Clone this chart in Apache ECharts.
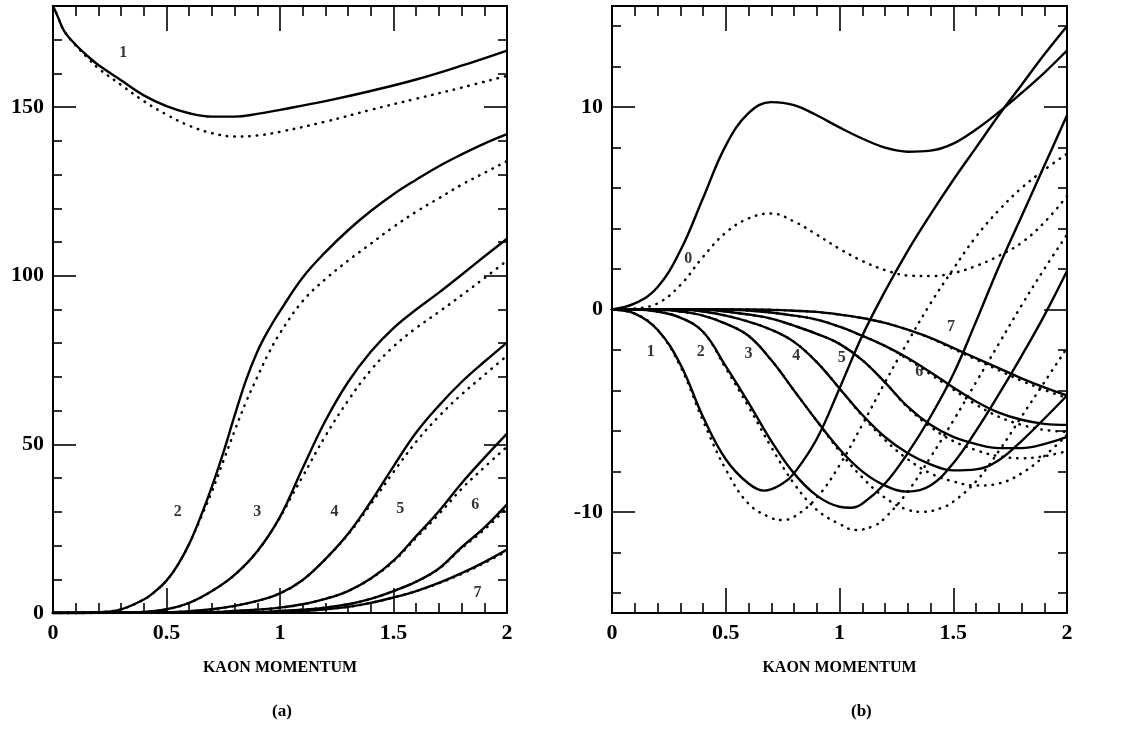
<!DOCTYPE html>
<html lang="en">
<head>
<meta charset="UTF-8">
<title>Kaon momentum</title>
<style>
  body{ margin:0; background:#fff; }
  .chart{ width:1141px; height:745px; }
</style>
</head>
<body>
<div class="chart"></div>
<script src="https://cdn.jsdelivr.net/npm/echarts@6/dist/echarts.min.js"></script>
<script>
  // tick values
  const xMajor = [0, 0.5, 1, 1.5, 2];
  const aMajor = [0, 50, 100, 150];
  const aMinor = [10, 20, 30, 40, 60, 70, 80, 90, 110, 120, 130, 140, 160, 170];
  const bMajor = [-10, 0, 10];
  const bMinor = [-14, -12, -8, -6, -4, -2, 2, 4, 6, 8, 12, 14];

  // panel (a): solid = full calc, dotted = approx
  const a1s = [[0,180],[0.02,177],[0.05,172.5],[0.1,168.5],[0.15,165.3],[0.2,162.5],[0.3,158],[0.4,153.5],[0.5,150.3],[0.6,148.2],[0.7,147.2],[0.8,147.2],[0.9,148],[1.0,149.2],[1.2,151.8],[1.4,154.8],[1.6,158.2],[1.8,162.3],[2.0,166.8]];
  const a1d = [[0,180],[0.02,177],[0.05,172.5],[0.1,168.3],[0.15,164.8],[0.2,161.5],[0.3,156.6],[0.4,151.8],[0.5,147.8],[0.6,144.5],[0.7,142.3],[0.8,141.3],[0.9,141.6],[1.0,142.7],[1.2,145.7],[1.4,149.2],[1.6,152.5],[1.8,155.8],[2.0,159.3]];
  const a2s = [[0,0],[0.1,0],[0.2,0.2],[0.3,1.1],[0.4,4],[0.45,6.4],[0.5,9.6],[0.55,14.3],[0.6,20.5],[0.65,28.5],[0.7,37.5],[0.75,47.5],[0.8,58.5],[0.85,69],[0.9,77.5],[0.95,84],[1.0,89.5],[1.1,99.5],[1.2,107],[1.3,113.5],[1.4,119.2],[1.5,124.2],[1.6,128.5],[1.7,132.5],[1.8,136],[1.9,139.2],[2.0,142]];
  const a2d = [[0,0],[0.1,0],[0.2,0.2],[0.3,1.1],[0.4,4],[0.45,6.4],[0.5,9.6],[0.55,14.3],[0.6,20.5],[0.65,28],[0.7,36],[0.75,45],[0.8,54],[0.85,62.5],[0.9,70],[0.95,77],[1.0,83],[1.1,92.5],[1.2,99],[1.3,104.5],[1.4,109.5],[1.5,114.5],[1.6,119],[1.7,123],[1.8,127],[1.9,130.5],[2.0,134]];
  const a3s = [[0,0],[0.3,0.1],[0.4,0.3],[0.5,1.1],[0.6,3],[0.7,6.5],[0.8,11.3],[0.9,18.3],[1.0,28.5],[1.1,43],[1.2,57],[1.3,68.5],[1.4,77.5],[1.5,84.5],[1.6,90],[1.7,95],[1.8,100.3],[1.9,105.7],[2.0,111]];
  const a3d = [[0,0],[0.3,0.1],[0.4,0.3],[0.5,1.1],[0.6,3],[0.7,6.5],[0.8,11.3],[0.9,18.3],[1.0,28.3],[1.05,34.5],[1.1,40.5],[1.2,52.5],[1.3,63],[1.4,72],[1.5,79],[1.6,84.5],[1.7,89.3],[1.8,94.2],[1.9,99.3],[2.0,104.5]];
  const a4s = [[0,0],[0.5,0.2],[0.6,0.5],[0.7,1.1],[0.8,2.1],[0.9,3.6],[1.0,5.8],[1.1,9.8],[1.2,16],[1.3,23.5],[1.4,33],[1.5,43.5],[1.6,53.5],[1.7,61.5],[1.8,68.5],[1.9,74.5],[2.0,80.2]];
  const a4d = [[0,0],[0.5,0.2],[0.6,0.5],[0.7,1.1],[0.8,2.1],[0.9,3.6],[1.0,5.8],[1.1,9.8],[1.2,16],[1.3,23.3],[1.4,32.3],[1.5,41.8],[1.6,50.8],[1.7,58.3],[1.8,64.8],[1.9,70.6],[2.0,76.3]];
  const a5s = [[0,0],[0.7,0.3],[0.8,0.6],[0.9,1],[1.0,1.6],[1.1,2.6],[1.2,4.2],[1.3,6.5],[1.4,10.2],[1.5,15.5],[1.6,22.8],[1.7,30.2],[1.8,38.5],[1.9,46],[2.0,53.2]];
  const a5d = [[0,0],[0.7,0.3],[0.8,0.6],[0.9,1],[1.0,1.6],[1.1,2.6],[1.2,4.2],[1.3,6.5],[1.4,10.2],[1.5,15.3],[1.6,22.3],[1.7,29.3],[1.8,36.8],[1.9,43.2],[2.0,49.3]];
  const a6s = [[0,0],[0.9,0.3],[1.0,0.6],[1.1,1],[1.2,1.6],[1.3,2.6],[1.4,4.2],[1.5,6.5],[1.6,9.3],[1.7,13.2],[1.8,19.5],[1.9,25.3],[2.0,32.2]];
  const a6d = [[0,0],[0.9,0.3],[1.0,0.6],[1.1,1],[1.2,1.6],[1.3,2.6],[1.4,4.2],[1.5,6.5],[1.6,9.3],[1.7,13.1],[1.8,19.2],[1.9,24.7],[2.0,31.2]];
  const a7s = [[0,0],[1.0,0.3],[1.1,0.6],[1.2,1.1],[1.3,1.8],[1.4,3],[1.5,4.6],[1.6,6.5],[1.7,8.9],[1.8,11.8],[1.9,15.1],[2.0,18.8]];
  const a7d = [[0,0],[1.0,0.3],[1.1,0.6],[1.2,1.1],[1.3,1.8],[1.4,3],[1.5,4.6],[1.6,6.5],[1.7,8.8],[1.8,11.6],[1.9,14.8],[2.0,18.4]];
  const aLabels = [[0.31,166,'1'],[0.55,30,'2'],[0.9,30,'3'],[1.24,30,'4'],[1.53,31,'5'],[1.86,32,'6'],[1.87,6,'7']];

  // panel (b)
  const b0s = [[0,0],[0.1,0.3],[0.2,1.1],[0.3,2.9],[0.4,5.5],[0.5,8.1],[0.6,9.7],[0.7,10.25],[0.8,10.1],[0.9,9.6],[1.0,9.0],[1.1,8.45],[1.2,8.0],[1.3,7.8],[1.4,7.85],[1.5,8.2],[1.6,8.9],[1.7,9.75],[1.8,10.7],[1.9,11.7],[2.0,12.8]];
  const b0d = [[0,0],[0.1,0.05],[0.2,0.3],[0.3,1.2],[0.4,2.6],[0.5,3.8],[0.6,4.5],[0.7,4.75],[0.8,4.35],[0.9,3.7],[1.0,3.0],[1.1,2.4],[1.2,1.95],[1.3,1.68],[1.4,1.65],[1.5,1.8],[1.6,2.15],[1.7,2.65],[1.8,3.3],[1.9,4.3],[2.0,5.6]];
  const b1s = [[0,0],[0.1,-0.2],[0.2,-1.0],[0.3,-2.7],[0.4,-5.3],[0.5,-7.4],[0.6,-8.6],[0.67,-8.95],[0.75,-8.6],[0.8,-8.1],[0.9,-6.4],[1.0,-3.9],[1.1,-1.3],[1.2,0.9],[1.3,2.9],[1.4,4.7],[1.5,6.4],[1.6,8.0],[1.7,9.6],[1.8,11.1],[1.9,12.6],[2.0,14.0]];
  const b1d = [[0,0],[0.1,-0.2],[0.2,-1.0],[0.3,-2.8],[0.4,-5.5],[0.5,-7.9],[0.6,-9.6],[0.7,-10.3],[0.75,-10.4],[0.8,-10.25],[0.9,-9.3],[1.0,-7.7],[1.1,-5.7],[1.2,-3.6],[1.3,-1.6],[1.4,0.3],[1.5,2.0],[1.6,3.6],[1.7,4.9],[1.8,6.0],[1.9,6.9],[2.0,7.7]];
  const b2s = [[0,0],[0.1,0],[0.2,-0.1],[0.3,-0.4],[0.4,-1.1],[0.5,-2.8],[0.6,-4.6],[0.7,-6.5],[0.8,-8.1],[0.9,-9.2],[1.0,-9.75],[1.05,-9.8],[1.1,-9.6],[1.2,-8.6],[1.3,-7.1],[1.4,-5.3],[1.5,-3.2],[1.6,-0.6],[1.7,2.1],[1.8,4.6],[1.9,7.1],[2.0,9.6]];
  const b2d = [[0,0],[0.1,0],[0.2,-0.1],[0.3,-0.4],[0.4,-1.1],[0.5,-2.9],[0.6,-4.8],[0.7,-6.8],[0.8,-8.6],[0.9,-9.9],[1.0,-10.6],[1.07,-10.9],[1.15,-10.7],[1.2,-10.3],[1.3,-9.0],[1.4,-7.3],[1.5,-5.5],[1.6,-3.6],[1.7,-1.7],[1.8,0.2],[1.9,2.0],[2.0,3.7]];
  const b3s = [[0,0],[0.2,0],[0.3,-0.1],[0.4,-0.3],[0.5,-0.7],[0.6,-1.3],[0.7,-2.5],[0.8,-4.0],[0.9,-5.5],[1.0,-6.9],[1.1,-8.0],[1.2,-8.7],[1.3,-9.0],[1.4,-8.7],[1.5,-7.6],[1.6,-6.0],[1.7,-4.2],[1.8,-2.3],[1.9,-0.3],[2.0,1.9]];
  const b3d = [[0,0],[0.2,0],[0.3,-0.1],[0.4,-0.3],[0.5,-0.7],[0.6,-1.3],[0.7,-2.5],[0.8,-4.0],[0.9,-5.5],[1.0,-7.0],[1.1,-8.3],[1.2,-9.3],[1.3,-9.9],[1.37,-10.0],[1.45,-9.8],[1.5,-9.5],[1.6,-8.5],[1.7,-7.0],[1.8,-5.3],[1.9,-3.6],[2.0,-1.9]];
  const b4s = [[0,0],[0.3,0],[0.4,-0.1],[0.5,-0.3],[0.6,-0.6],[0.7,-1.0],[0.8,-1.6],[0.9,-2.6],[1.0,-3.9],[1.1,-5.2],[1.2,-6.3],[1.3,-7.1],[1.4,-7.65],[1.5,-7.95],[1.6,-7.9],[1.7,-7.45],[1.8,-6.5],[1.9,-5.4],[2.0,-4.25]];
  const b4d = [[0,0],[0.3,0],[0.4,-0.1],[0.5,-0.3],[0.6,-0.6],[0.7,-1.0],[0.8,-1.6],[0.9,-2.6],[1.0,-3.9],[1.1,-5.25],[1.2,-6.45],[1.3,-7.4],[1.4,-8.1],[1.5,-8.5],[1.6,-8.7],[1.7,-8.6],[1.8,-8.1],[1.9,-7.25],[2.0,-6.2]];
  const b5s = [[0,0],[0.4,0],[0.5,-0.1],[0.6,-0.25],[0.7,-0.45],[0.8,-0.8],[0.9,-1.2],[1.0,-1.7],[1.1,-2.5],[1.2,-3.6],[1.3,-4.8],[1.4,-5.7],[1.5,-6.3],[1.6,-6.65],[1.7,-6.85],[1.8,-6.85],[1.9,-6.65],[2.0,-6.3]];
  const b5d = [[0,0],[0.4,0],[0.5,-0.1],[0.6,-0.25],[0.7,-0.45],[0.8,-0.8],[0.9,-1.2],[1.0,-1.7],[1.1,-2.5],[1.2,-3.6],[1.3,-4.85],[1.4,-5.8],[1.5,-6.5],[1.6,-6.95],[1.7,-7.25],[1.8,-7.35],[1.9,-7.25],[2.0,-7.0]];
  const b6s = [[0,0],[0.5,0],[0.6,-0.05],[0.7,-0.15],[0.8,-0.3],[0.9,-0.5],[1.0,-0.85],[1.1,-1.3],[1.2,-1.8],[1.3,-2.4],[1.4,-3.1],[1.5,-3.85],[1.6,-4.55],[1.7,-5.1],[1.8,-5.45],[1.9,-5.65],[2.0,-5.7]];
  const b6d = [[0,0],[0.5,0],[0.6,-0.05],[0.7,-0.15],[0.8,-0.3],[0.9,-0.5],[1.0,-0.85],[1.1,-1.3],[1.2,-1.8],[1.3,-2.45],[1.4,-3.2],[1.5,-3.95],[1.6,-4.7],[1.7,-5.3],[1.8,-5.7],[1.9,-5.95],[2.0,-6.05]];
  const b7s = [[0,0],[0.6,0],[0.7,-0.02],[0.8,-0.06],[0.9,-0.12],[1.0,-0.25],[1.1,-0.42],[1.2,-0.66],[1.3,-1.0],[1.4,-1.4],[1.5,-1.9],[1.6,-2.4],[1.7,-2.9],[1.8,-3.4],[1.9,-3.85],[2.0,-4.25]];
  const b7d = [[0,0],[0.6,0],[0.7,-0.02],[0.8,-0.06],[0.9,-0.12],[1.0,-0.25],[1.1,-0.42],[1.2,-0.66],[1.3,-1.0],[1.4,-1.42],[1.5,-1.95],[1.6,-2.47],[1.7,-3.0],[1.8,-3.52],[1.9,-3.97],[2.0,-4.38]];
  const bLabels = [[0.335,2.5,'0'],[0.17,-2.1,'1'],[0.39,-2.1,'2'],[0.6,-2.2,'3'],[0.81,-2.3,'4'],[1.01,-2.4,'5'],[1.35,-3.1,'6'],[1.49,-0.86,'7']];

  const FONT = 'Liberation Serif';
  const black = '#000';

  function xAxes(g, pos, labels) {
    return {
      type: 'value', gridIndex: g, position: pos, min: 0, max: 2,
      name: labels ? 'KAON MOMENTUM' : '',
      nameLocation: 'middle', nameGap: 47,
      nameTextStyle: { fontFamily: FONT, fontWeight: 'bold', fontSize: 16, color: black },
      axisLine: { onZero: false, lineStyle: { color: black, width: 2 } },
      axisTick: { inside: true, length: 25, customValues: xMajor, lineStyle: { color: black, width: 1.6 } },
      minorTick: { show: true, splitNumber: 5, length: 10, lineStyle: { color: black, width: 1.6 } },
      axisLabel: {
        show: labels, customValues: xMajor, margin: 9,
        fontFamily: FONT, fontWeight: 'bold', fontSize: 22, color: black
      },
      splitLine: { show: false }, minorSplitLine: { show: false }
    };
  }

  function yAxis(g, pos, min, max, ticks, len, labels) {
    return {
      type: 'value', gridIndex: g, position: pos, min: min, max: max,
      axisLine: { onZero: false, lineStyle: { color: black, width: 2 } },
      axisTick: { inside: true, length: len, customValues: ticks, lineStyle: { color: black, width: 1.6 } },
      axisLabel: {
        show: labels, customValues: ticks, margin: 9,
        fontFamily: FONT, fontWeight: 'bold', fontSize: 22, color: black
      },
      splitLine: { show: false }
    };
  }

  function solid(data, xi, yi) {
    return {
      type: 'line', xAxisIndex: xi, yAxisIndex: yi, data: data,
      smooth: 0.4, showSymbol: false, silent: true,
      lineStyle: { color: black, width: 2.4 }
    };
  }
  function dotted(data, xi, yi) {
    return {
      type: 'line', xAxisIndex: xi, yAxisIndex: yi, data: data,
      smooth: 0.4, showSymbol: false, silent: true,
      lineStyle: { color: black, width: 2.5, type: [0.5, 7], cap: 'round' }
    };
  }
  function tags(data, xi, yi) {
    return {
      type: 'scatter', xAxisIndex: xi, yAxisIndex: yi, data: data,
      symbolSize: 1, itemStyle: { color: 'rgba(0,0,0,0)' }, silent: true,
      label: {
        show: true, position: 'inside', formatter: p => p.value[2],
        fontFamily: FONT, fontWeight: 'bold', fontSize: 16, color: black
      }
    };
  }

  const container = document.querySelector('.chart');
  const instance = echarts.init(container);

  const aSolid = [a1s, a2s, a3s, a4s, a5s, a6s, a7s];
  const aDot = [a1d, a2d, a3d, a4d, a5d, a6d, a7d];
  const bSolid = [b0s, b1s, b2s, b3s, b4s, b5s, b6s, b7s];
  const bDot = [b0d, b1d, b2d, b3d, b4d, b5d, b6d, b7d];

  const series = [];
  aDot.forEach(d => series.push(dotted(d, 0, 0)));
  aSolid.forEach(d => series.push(solid(d, 0, 0)));
  bDot.forEach(d => series.push(dotted(d, 2, 4)));
  bSolid.forEach(d => series.push(solid(d, 2, 4)));
  series.push(tags(aLabels, 0, 0));
  series.push(tags(bLabels, 2, 4));

  const option = {
    animation: false,
    backgroundColor: '#fff',
    grid: [
      { left: 53, top: 6, width: 454, height: 607 },
      { left: 612, top: 6, width: 455, height: 607 }
    ],
    xAxis: [
      xAxes(0, 'bottom', true), xAxes(0, 'top', false),
      xAxes(1, 'bottom', true), xAxes(1, 'top', false)
    ],
    yAxis: [
      yAxis(0, 'left', 0, 180, aMajor, 23, true),
      yAxis(0, 'left', 0, 180, aMinor, 9, false),
      yAxis(0, 'right', 0, 180, aMajor, 23, false),
      yAxis(0, 'right', 0, 180, aMinor, 9, false),
      yAxis(1, 'left', -15, 15, bMajor, 23, true),
      yAxis(1, 'left', -15, 15, bMinor, 9, false),
      yAxis(1, 'right', -15, 15, bMajor, 23, false),
      yAxis(1, 'right', -15, 15, bMinor, 9, false)
    ],
    graphic: [
      { type: 'text', left: 272, top: 703, style: { text: '(a)', font: 'bold 17px "Liberation Serif"', fill: black } },
      { type: 'text', left: 851, top: 703, style: { text: '(b)', font: 'bold 17px "Liberation Serif"', fill: black } }
    ],
    series: series
  };
  instance.setOption(option);
</script>
</body>
</html>
